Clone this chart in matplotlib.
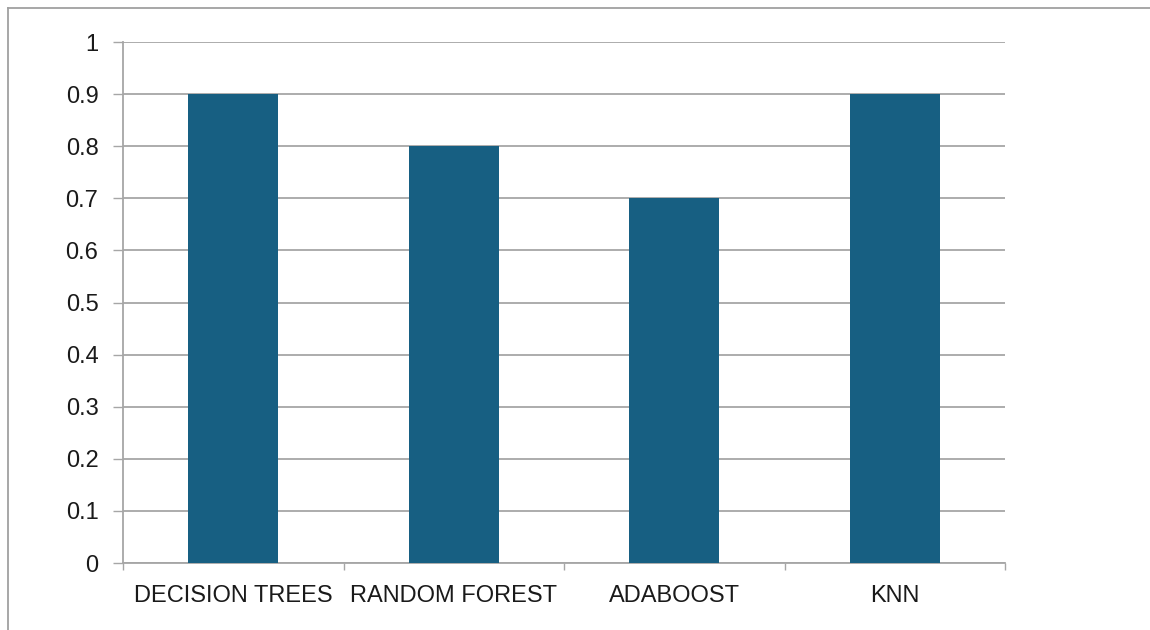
import matplotlib
matplotlib.use("Agg")
import matplotlib.pyplot as plt
from matplotlib.lines import Line2D
import numpy as np

models = ["DECISION TREES", "RANDOM FOREST", "ADABOOST", "KNN"]
scores = [0.9, 0.8, 0.7, 0.9]
y_ticks = [0, 0.1, 0.2, 0.3, 0.4, 0.5, 0.6, 0.7, 0.8, 0.9, 1]
y_labels = ["0", "0.1", "0.2", "0.3", "0.4", "0.5", "0.6", "0.7", "0.8", "0.9", "1"]

BAR_COLOR = "#175F82"
GRID_COLOR = "#A6A6A6"
TEXT_COLOR = "#1A1A1A"

plt.rcParams["font.family"] = ["Liberation Sans", "DejaVu Sans"]

W, H = 1150, 630
fig = plt.figure(figsize=(W / 100, H / 100), dpi=100)
ax = fig.add_axes([123 / W, 1 - 563 / H, (1005 - 123) / W, (563 - 42) / H])

x = np.arange(len(models))
ax.bar(x, scores, width=0.41, color=BAR_COLOR, zorder=3)

ax.set_xlim(-0.5, len(models) - 0.5)
ax.set_ylim(0, 1)

# horizontal gridlines plus outward y ticks so lines start left of the axis
ax.set_yticks(y_ticks)
ax.set_yticklabels(y_labels)
ax.yaxis.grid(True, color=GRID_COLOR, linewidth=1.3, zorder=0)
ax.tick_params(axis="y", length=7.2, width=1.0, color=GRID_COLOR, pad=10.5,
               labelsize=17, labelcolor=TEXT_COLOR)

# category labels at centres, short ticks at category boundaries
ax.set_xticks(x)
ax.set_xticklabels(models)
ax.set_xticks(np.arange(-0.5, len(models)), minor=True)
ax.tick_params(axis="x", which="major", length=0, pad=16, labelsize=17,
               labelcolor=TEXT_COLOR)
ax.tick_params(axis="x", which="minor", length=5, width=1.0, color=GRID_COLOR)

for side in ["top", "right"]:
    ax.spines[side].set_visible(False)
for side in ["left", "bottom"]:
    ax.spines[side].set_color(GRID_COLOR)
    ax.spines[side].set_linewidth(1.3)

# outer chart frame (left and top edges)
fig.add_artist(Line2D([7.5 / W, 7.5 / W], [0, 1 - 7.5 / H], color="#A0A0A0",
                      linewidth=1.3, transform=fig.transFigure))
fig.add_artist(Line2D([7.5 / W, 1], [1 - 7.5 / H, 1 - 7.5 / H], color="#A0A0A0",
                      linewidth=1.3, transform=fig.transFigure))

fig.savefig("out.png", dpi=100)
